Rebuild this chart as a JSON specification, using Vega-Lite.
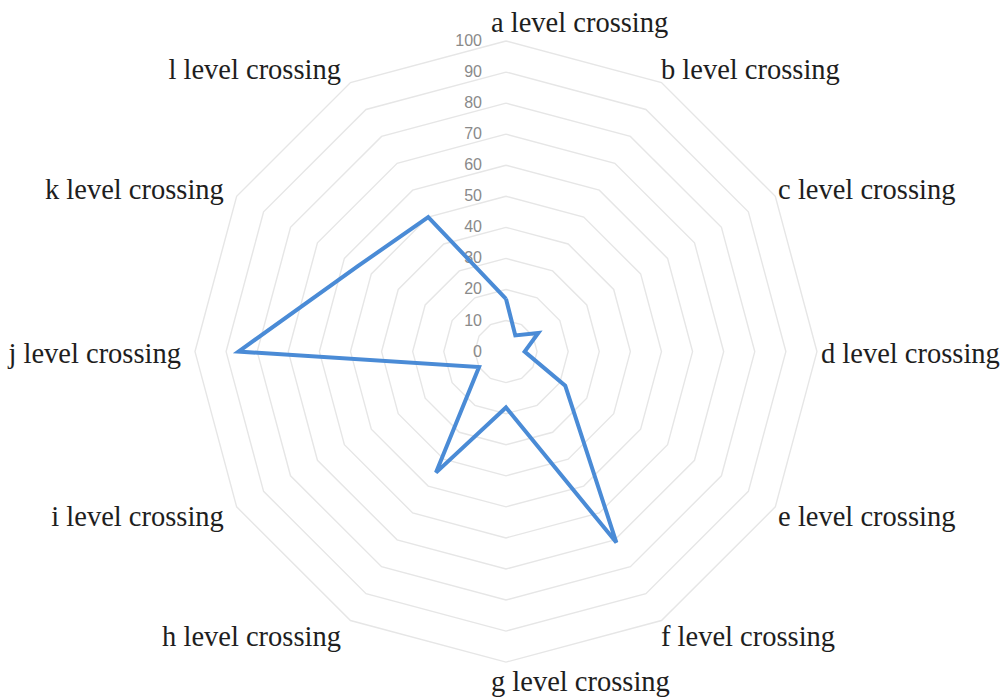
{
  "$schema": "https://vega.github.io/schema/vega-lite/v6.json",
  "width": 1002,
  "height": 697,
  "autosize": {"type": "fit", "contains": "padding"},
  "padding": 0,
  "background": "white",
  "config": {"view": {"stroke": null}},
  "datasets": {
    "crossings": [
      {"crossing": "a level crossing", "value": 17},
      {"crossing": "b level crossing", "value": 6},
      {"crossing": "c level crossing", "value": 12},
      {"crossing": "d level crossing", "value": 6},
      {"crossing": "e level crossing", "value": 22},
      {"crossing": "f level crossing", "value": 71},
      {"crossing": "g level crossing", "value": 18},
      {"crossing": "h level crossing", "value": 45},
      {"crossing": "i level crossing", "value": 10},
      {"crossing": "j level crossing", "value": 86},
      {"crossing": "k level crossing", "value": 55},
      {"crossing": "l level crossing", "value": 50}
    ],
    "levels": [
      {"level": 0}, {"level": 10}, {"level": 20}, {"level": 30}, {"level": 40},
      {"level": 50}, {"level": 60}, {"level": 70}, {"level": 80}, {"level": 90}, {"level": 100}
    ]
  },
  "encoding": {
    "x": {"field": "x", "type": "quantitative", "scale": {"domain": [-162.7, 159.5], "nice": false, "zero": false}, "axis": null},
    "y": {"field": "y", "type": "quantitative", "scale": {"domain": [-110.9, 113.2], "nice": false, "zero": false}, "axis": null}
  },
  "layer": [
    {
      "data": {"name": "levels"},
      "transform": [
        {"filter": "datum.level > 0"},
        {"calculate": "sequence(0, 13)", "as": "spoke"},
        {"flatten": ["spoke"]},
        {"calculate": "datum.level * sin(datum.spoke * PI / 6)", "as": "x"},
        {"calculate": "datum.level * cos(datum.spoke * PI / 6)", "as": "y"}
      ],
      "mark": {"type": "line", "stroke": "#e6e6e6", "strokeWidth": 1.4},
      "encoding": {
        "detail": {"field": "level", "type": "nominal"},
        "order": {"field": "spoke", "type": "quantitative"}
      }
    },
    {
      "data": {"name": "levels"},
      "transform": [
        {"calculate": "0", "as": "x"},
        {"calculate": "datum.level", "as": "y"}
      ],
      "mark": {"type": "text", "align": "right", "baseline": "middle", "dx": -24, "font": "Liberation Sans", "fontSize": 16, "color": "#8a8a8a"},
      "encoding": {"text": {"field": "level", "type": "quantitative"}}
    },
    {
      "data": {"name": "crossings"},
      "transform": [
        {"calculate": "indexof('abcdefghijkl', substring(datum.crossing, 0, 1))", "as": "idx"},
        {"calculate": "datum.idx == 0 ? [0, 12] : [datum.idx]", "as": "ord"},
        {"flatten": ["ord"]},
        {"calculate": "datum.value * sin(datum.ord * PI / 6)", "as": "x"},
        {"calculate": "datum.value * cos(datum.ord * PI / 6)", "as": "y"}
      ],
      "mark": {"type": "line", "stroke": "#4a8bd6", "strokeWidth": 4, "strokeJoin": "miter"},
      "encoding": {"order": {"field": "ord", "type": "quantitative"}}
    },
    {
      "data": {"name": "crossings"},
      "transform": [
        {"calculate": "indexof('abcdefghijkl', substring(datum.crossing, 0, 1))", "as": "idx"},
        {"filter": "datum.idx >= 1 && datum.idx <= 5"},
        {"calculate": "102.9 * sin(datum.idx * PI / 6)", "as": "x"},
        {"calculate": "105.5 * cos(datum.idx * PI / 6)", "as": "y"}
      ],
      "mark": {"type": "text", "align": "left", "baseline": "middle", "dx": -5, "dy": 2, "font": "Liberation Serif", "fontSize": 28.5, "color": "#1e1e1e"},
      "encoding": {"text": {"field": "crossing", "type": "nominal"}}
    },
    {
      "data": {"name": "crossings"},
      "transform": [
        {"calculate": "indexof('abcdefghijkl', substring(datum.crossing, 0, 1))", "as": "idx"},
        {"filter": "datum.idx >= 7"},
        {"calculate": "102.9 * sin(datum.idx * PI / 6)", "as": "x"},
        {"calculate": "105.5 * cos(datum.idx * PI / 6)", "as": "y"}
      ],
      "mark": {"type": "text", "align": "right", "baseline": "middle", "dx": -5, "dy": 2, "font": "Liberation Serif", "fontSize": 28.5, "color": "#1e1e1e"},
      "encoding": {"text": {"field": "crossing", "type": "nominal"}}
    },
    {
      "data": {"name": "crossings"},
      "transform": [
        {"calculate": "indexof('abcdefghijkl', substring(datum.crossing, 0, 1))", "as": "idx"},
        {"filter": "datum.idx == 0 || datum.idx == 6"},
        {"calculate": "0", "as": "x"},
        {"calculate": "106.2 * cos(datum.idx * PI / 6)", "as": "y"}
      ],
      "mark": {"type": "text", "align": "left", "baseline": "middle", "dx": -15, "dy": 1, "font": "Liberation Serif", "fontSize": 28.5, "color": "#1e1e1e"},
      "encoding": {"text": {"field": "crossing", "type": "nominal"}}
    }
  ]
}
